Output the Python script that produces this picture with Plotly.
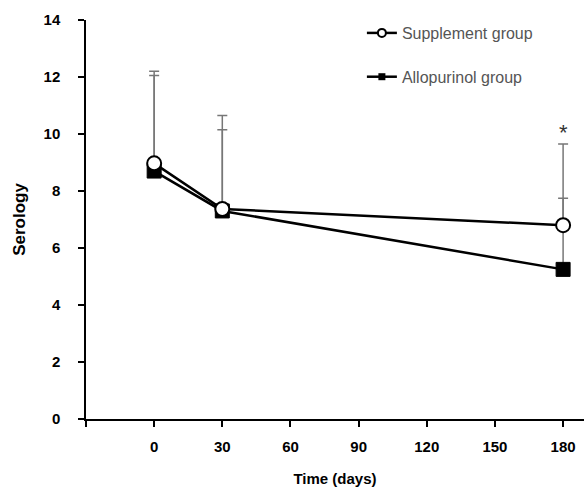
import plotly.graph_objects as go

days = [0, 30, 180]
supplement = [8.97, 7.37, 6.8]
allopurinol = [8.7, 7.3, 5.25]
supplement_upper = [12.05, 10.15, 7.75]
allopurinol_upper = [12.2, 10.65, 9.65]
x_ticks = [-30, 0, 30, 60, 90, 120, 150, 180]
x_ticklabels = ["", "0", "30", "60", "90", "120", "150", "180"]
y_ticks = [0, 2, 4, 6, 8, 10, 12, 14]

sup_err = [u - v for u, v in zip(supplement_upper, supplement)]
allo_err = [u - v for u, v in zip(allopurinol_upper, allopurinol)]

fig = go.Figure()
fig.add_trace(go.Scatter(
    x=days, y=allopurinol, name="Allopurinol group", mode="lines+markers",
    showlegend=False,
    line=dict(color="black", width=2.5),
    marker=dict(symbol="square", size=14, color="black", line=dict(color="black", width=1)),
    error_y=dict(type="data", symmetric=False, array=allo_err, arrayminus=[0, 0, 0],
                 color="#777777", thickness=1.5, width=5),
))
fig.add_trace(go.Scatter(
    x=days, y=supplement, name="Supplement group", mode="lines+markers",
    showlegend=False,
    line=dict(color="black", width=2.5),
    marker=dict(symbol="circle", size=14, color="white", line=dict(color="black", width=2)),
    error_y=dict(type="data", symmetric=False, array=sup_err, arrayminus=[0, 0, 0],
                 color="#777777", thickness=1.5, width=5),
))
# legend entries with small markers
fig.add_trace(go.Scatter(
    x=[None], y=[None], name="Supplement group", mode="lines+markers",
    legendgroup="a", legendrank=1,
    line=dict(color="black", width=2.5),
    marker=dict(symbol="circle", size=8, color="white", line=dict(color="black", width=2)),
))
fig.add_trace(go.Scatter(
    x=[None], y=[None], name="Allopurinol group", mode="lines+markers",
    legendgroup="b", legendrank=2,
    line=dict(color="black", width=2.5),
    marker=dict(symbol="square", size=7, color="black"),
))

fig.add_annotation(x=180, y=10.05, text="*", showarrow=False,
                   font=dict(size=22, color="#333", family="Liberation Sans"))

fig.update_layout(
    width=584, height=487,
    margin=dict(l=86, r=0, t=20, b=68),
    plot_bgcolor="white", paper_bgcolor="white",
    font=dict(family="Liberation Sans"),
    showlegend=True,
    legend=dict(x=0.554, y=1.01, xanchor="left", yanchor="top",
                font=dict(size=16, color="#555555", family="Liberation Sans"),
                tracegroupgap=20, bgcolor="rgba(0,0,0,0)"),
    xaxis=dict(range=[-30, 189.2], tickvals=x_ticks, ticktext=x_ticklabels,
               showgrid=False, zeroline=False, showline=True, linecolor="black", linewidth=1.5,
               ticks="outside", ticklen=6, tickwidth=1.5, tickcolor="black",
               tickfont=dict(family="Liberation Sans", size=15, color="black", weight="bold"),
               ticklabelstandoff=7, automargin=False,
               title=dict(text="Time (days)", font=dict(family="Liberation Sans", size=15, color="black", weight="bold"), standoff=21)),
    yaxis=dict(range=[0, 14], tickvals=y_ticks,
               showgrid=False, zeroline=False, showline=True, linecolor="black", linewidth=1.5,
               ticks="outside", ticklen=6, tickwidth=1.5, tickcolor="black",
               tickfont=dict(family="Liberation Sans", size=15, color="black", weight="bold"),
               ticklabelstandoff=15, automargin=False,
               title=dict(text="Serology", font=dict(family="Liberation Sans", size=17, color="black", weight="bold"), standoff=14)),
)

fig.write_html("out.html", config={"displayModeBar": False},
               post_script="document.body.style.margin='0px';")
